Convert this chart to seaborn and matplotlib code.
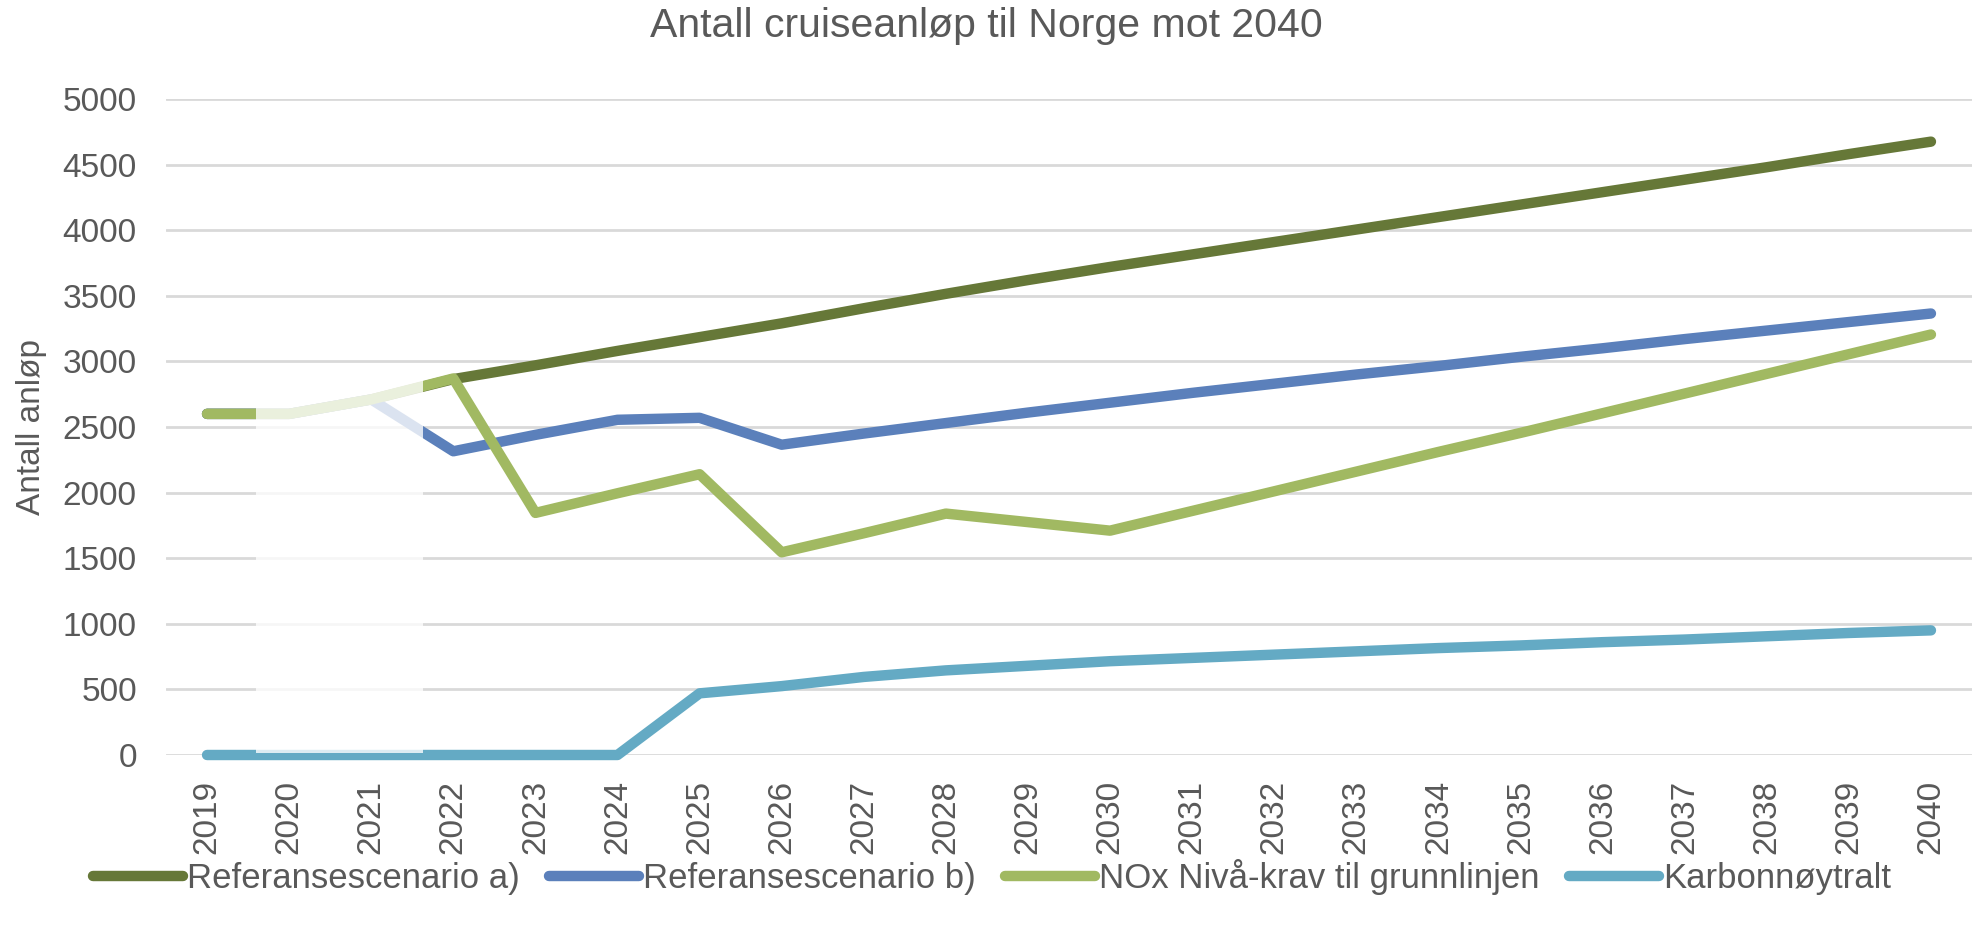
import matplotlib.pyplot as plt
import pandas as pd
import seaborn as sns
from matplotlib.patches import Rectangle

# data
years = list(range(2019, 2041))
ref_a = [2600, 2600, 2710, 2865, 2970, 3080, 3185, 3290, 3405, 3515, 3620,
         3720, 3815, 3910, 4005, 4100, 4195, 4290, 4385, 4480, 4580, 4675]
ref_b = [2600, 2600, 2710, 2315, 2440, 2555, 2570, 2365, 2450, 2530, 2610,
         2685, 2760, 2830, 2900, 2965, 3035, 3100, 3170, 3235, 3300, 3365]
nox = [2600, 2600, 2710, 2870, 1845, 1995, 2140, 1545, 1690, 1840, 1775,
       1710, 1860, 2010, 2160, 2310, 2455, 2605, 2755, 2905, 3055, 3205]
karbon = [0, 0, 0, 0, 0, 0, 470, 525, 595, 645, 680,
          715, 740, 765, 790, 815, 835, 860, 880, 905, 930, 950]

series_names = [
    "Referansescenario a)",
    "Referansescenario b)",
    "NOx Nivå-krav til grunnlinjen",
    "Karbonnøytralt",
]
series_colors = ["#667838", "#5b80bb", "#a1b962", "#64aac4"]

df = pd.DataFrame({
    "År": years * 4,
    "Antall": ref_a + ref_b + nox + karbon,
    "Scenario": [name for name in series_names for _ in years],
})

sns.set_theme(style="white")
plt.rcParams["font.family"] = ["Liberation Sans", "DejaVu Sans"]
text_color = "#595959"

W, H = 1972, 934
fig = plt.figure(figsize=(W / 100, H / 100), dpi=100)
ax = fig.add_axes([166 / W, 1 - 755 / H, 1 - 166 / W, (755 - 99) / H])

sns.lineplot(
    data=df,
    x="År",
    y="Antall",
    hue="Scenario",
    hue_order=series_names,
    palette=series_colors,
    linewidth=7.5,
    errorbar=None,
    sort=False,
    ax=ax,
)
for line in ax.lines:
    line.set_solid_capstyle("round")
    line.set_clip_on(False)

# faded (whited-out) patch visible in the original
ax.add_patch(Rectangle((2019.6, 15), 2.03, 2920, facecolor="white",
                       edgecolor="none", alpha=0.79, zorder=5))

ax.set_xlim(2018.5, 2040.5)
ax.set_ylim(0, 5000)
ax.set_xticks(years)
ax.set_yticks(range(0, 5001, 500))
plt.setp(ax.get_xticklabels(), rotation=90)

ax.yaxis.grid(True, color="#d9d9d9", linewidth=2)
ax.set_axisbelow(True)
sns.despine(ax=ax, left=True, bottom=True, right=True, top=True)
ax.tick_params(axis="both", length=0, labelsize=24, labelcolor=text_color)
ax.tick_params(axis="x", pad=18)
ax.tick_params(axis="y", pad=21)

ax.set_xlabel("")
ax.set_ylabel("Antall anløp", fontsize=24, color=text_color)
ax.yaxis.set_label_coords(-0.066, 0.5)

fig.suptitle("Antall cruiseanløp til Norge mot 2040", x=0.5, y=0.972,
             va="center", fontsize=29.5, color=text_color)

handles, labels = ax.get_legend_handles_labels()
ax.get_legend().remove()
for h in handles:
    h.set_linewidth(7.5)
leg = fig.legend(handles, labels, loc="center", bbox_to_anchor=(0.503, 0.061),
                 ncol=4, frameon=False, fontsize=25, handlelength=2.6,
                 handletextpad=0.1, columnspacing=0.85)
for t in leg.get_texts():
    t.set_color(text_color)

fig.savefig("out.png", dpi=100)
